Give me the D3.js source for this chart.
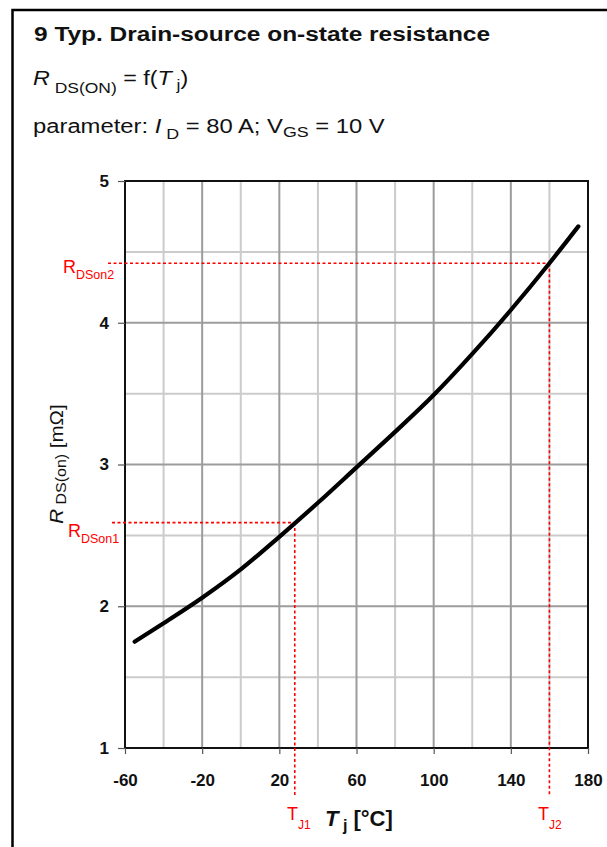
<!DOCTYPE html>
<html>
<head>
<meta charset="utf-8">
<style>
  body { margin: 0; background: #fff; }
  text { font-family: "Liberation Sans", Arial, sans-serif; }
</style>
<script src="https://d3js.org/d3.v7.min.js"></script>
</head>
<body>
<div id="chart"></div>
<script>
// typical Rds(on) vs junction temperature
const tj = [-55, -40, -20, 0, 20, 40, 60, 80, 100, 120, 140, 160, 175];
const rdsOn = [1.75, 1.88, 2.06, 2.26, 2.49, 2.73, 2.98, 3.23, 3.49, 3.78, 4.09, 4.42, 4.68];

const xTicks = [-60, -20, 20, 60, 100, 140, 180];
const yTicks = [1, 2, 3, 4, 5];
const xMinorGrid = [-40, 0, 40, 80, 120, 160];
const yMinorGrid = [1.5, 2.5, 3.5, 4.5];

// the two red marker points
const markT = [28, 160];
const markR = [2.59, 4.42];
const markTLabel = ["J1", "J2"];
const markRLabel = ["DSon1", "DSon2"];

const W = 607, H = 847;
const pLeft = 125, pRight = 588, pTop = 181, pBottom = 748;

const svg = d3.select("#chart").append("svg")
    .attr("width", W)
    .attr("height", H);

// frame around the whole figure
svg.append("rect")
    .attr("x", 12.5).attr("y", 10)
    .attr("width", W).attr("height", H)
    .attr("fill", "none")
    .attr("stroke", "#000")
    .attr("stroke-width", 2.5);

// header lines (the source text is a bit wider than Liberation, so stretch it)
svg.append("text")
    .attr("transform", "translate(34,41) scale(1.165,1)")
    .attr("font-size", 21).attr("font-weight", "bold")
    .attr("fill", "#111")
    .text("9 Typ. Drain-source on-state resistance");

let l2 = svg.append("text").attr("transform", "translate(33,85) scale(1.165,1)")
    .attr("font-size", 20).attr("fill", "#111");
l2.append("tspan").attr("font-style", "italic").text("R");
l2.append("tspan").attr("font-size", 15).attr("dy", 8).text(" DS(ON)");
l2.append("tspan").attr("dy", -8).text(" = f(");
l2.append("tspan").attr("font-style", "italic").text("T");
l2.append("tspan").attr("font-size", 15).attr("dy", 5).text(" j");
l2.append("tspan").attr("dy", -5).text(")");

let l3 = svg.append("text").attr("transform", "translate(33,133) scale(1.19,1)")
    .attr("font-size", 20).attr("fill", "#111");
l3.append("tspan").text("parameter: ");
l3.append("tspan").attr("font-style", "italic").text("I");
l3.append("tspan").attr("font-size", 15).attr("dy", 6).text(" D");
l3.append("tspan").attr("dy", -6).text(" = 80 A; V");
l3.append("tspan").attr("font-size", 15).attr("dy", 4).text("GS");
l3.append("tspan").attr("dy", -4).text(" = 10 V");

let x = d3.scaleLinear().domain([-60, 180]).range([pLeft, pRight]);
let y = d3.scaleLinear().domain([1, 5]).range([pBottom, pTop]);

// grid
let grid = svg.append("g");
grid.selectAll(".vmin").data(xMinorGrid).enter().append("line")
    .attr("x1", d => x(d)).attr("x2", d => x(d))
    .attr("y1", pTop).attr("y2", pBottom)
    .attr("stroke", "#cbcbcb").attr("stroke-width", 2);
grid.selectAll(".hmin").data(yMinorGrid).enter().append("line")
    .attr("x1", pLeft).attr("x2", pRight)
    .attr("y1", d => y(d)).attr("y2", d => y(d))
    .attr("stroke", "#cbcbcb").attr("stroke-width", 2);
grid.selectAll(".vmaj").data(xTicks).enter().append("line")
    .attr("x1", d => x(d)).attr("x2", d => x(d))
    .attr("y1", pTop).attr("y2", pBottom)
    .attr("stroke", "#9c9c9c").attr("stroke-width", 2);
grid.selectAll(".hmaj").data(yTicks).enter().append("line")
    .attr("x1", pLeft).attr("x2", pRight)
    .attr("y1", d => y(d)).attr("y2", d => y(d))
    .attr("stroke", "#9c9c9c").attr("stroke-width", 2);

// plot frame
svg.append("rect")
    .attr("x", pLeft).attr("y", pTop)
    .attr("width", pRight - pLeft).attr("height", pBottom - pTop)
    .attr("fill", "none").attr("stroke", "#111").attr("stroke-width", 2);

// axes
let xAxis = d3.axisBottom(x).tickValues(xTicks).tickSize(6).tickPadding(20)
    .tickFormat(d => String(d));
let yAxis = d3.axisLeft(y).tickValues(yTicks).tickSize(7).tickPadding(9)
    .tickFormat(d => String(d));

let gx = svg.append("g").attr("transform", "translate(0," + pBottom + ")").call(xAxis);
let gy = svg.append("g").attr("transform", "translate(" + pLeft + ",0)").call(yAxis);
[gx, gy].forEach(g => {
    g.select(".domain").remove();
    g.selectAll(".tick line").attr("stroke", "#555").attr("stroke-width", 1.2);
    g.selectAll(".tick text")
        .attr("font-family", '"Liberation Sans", Arial, sans-serif')
        .attr("font-size", 17).attr("font-weight", "bold").attr("fill", "#111");
});

// red marker lines
let mk = svg.append("g").attr("fill", "none").attr("stroke", "#ff0000")
    .attr("stroke-width", 1.6).attr("stroke-dasharray", "3,2.5");
const hStart = [112, 108];
markT.forEach((t, i) => {
    mk.append("line")
        .attr("x1", hStart[i]).attr("x2", x(t))
        .attr("y1", y(markR[i])).attr("y2", y(markR[i]));
    mk.append("line")
        .attr("x1", x(t)).attr("x2", x(t))
        .attr("y1", y(markR[i])).attr("y2", 796);
});

// curve
let line = d3.line()
    .x((d, i) => x(tj[i]))
    .y(d => y(d))
    .curve(d3.curveMonotoneX);
svg.append("path")
    .datum(rdsOn)
    .attr("d", line)
    .attr("fill", "none")
    .attr("stroke", "#000")
    .attr("stroke-width", 4.2)
    .attr("stroke-linecap", "round");

// red labels
const rLabelX = [68, 63];
const rLabelY = [537, 273];
markR.forEach((r, i) => {
    let t = svg.append("text").attr("x", rLabelX[i]).attr("y", rLabelY[i])
        .attr("fill", "#ff0000").attr("font-size", 18);
    t.append("tspan").text("R");
    t.append("tspan").attr("font-size", 12.5).attr("dy", 6).text(markRLabel[i]);
});
const tLabelX = [287, 538];
markT.forEach((tv, i) => {
    let t = svg.append("text").attr("x", tLabelX[i]).attr("y", 820)
        .attr("fill", "#ff0000").attr("font-size", 18);
    t.append("tspan").text("T");
    t.append("tspan").attr("font-size", 12).attr("dy", 9).text(markTLabel[i]);
});

// axis titles
let xt = svg.append("text").attr("x", 325).attr("y", 826)
    .attr("font-size", 22).attr("font-weight", "bold").attr("fill", "#111");
xt.append("tspan").attr("font-style", "italic").text("T");
xt.append("tspan").attr("font-size", 16).attr("dy", 5).text(" j");
xt.append("tspan").attr("dy", -5).text(" [°C]");

let yt = svg.append("text")
    .attr("transform", "translate(63,464) rotate(-90) scale(1.14,1)")
    .attr("text-anchor", "middle")
    .attr("font-size", 18).attr("fill", "#111");
yt.append("tspan").attr("font-style", "italic").text("R");
yt.append("tspan").attr("font-size", 14).attr("dy", 3).text(" DS(on)");
yt.append("tspan").attr("dy", -3).text(" [mΩ]");
</script>
</body>
</html>
